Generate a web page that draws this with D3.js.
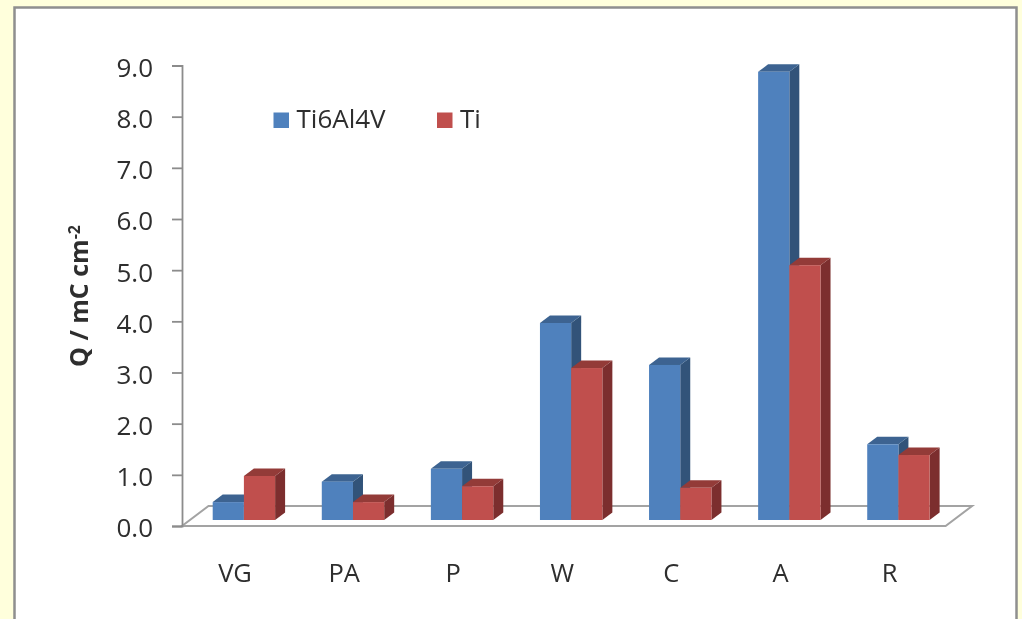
<!DOCTYPE html>
<html>
<head>
<meta charset="utf-8">
<script src="https://cdn.jsdelivr.net/npm/d3@7"></script>
<style>
  html, body { margin: 0; padding: 0; background: #ffffdc; overflow: hidden; }
  svg { display: block; }
  text { font-family: "Open Sans", sans-serif; fill: #2e2e2e; }
</style>
</head>
<body>
<div id="chart"></div>
<script>
const categories = ["VG", "PA", "P", "W", "C", "A", "R"];
const seriesNames = ["Ti6Al4V", "Ti"];
const ti6al4v = [0.35, 0.75, 1.0, 3.85, 3.03, 8.76, 1.48];
const ti = [0.86, 0.35, 0.66, 2.97, 0.63, 4.98, 1.27];
const yTicks = [0, 1, 2, 3, 4, 5, 6, 7, 8, 9];

const frontColors = ["#4f81bd", "#c0504d"];
const topColors = ["#3c6491", "#933b39"];
const sideColors = ["#315379", "#7b2f2d"];

const width = 1022, height = 619;

const svg = d3.select("#chart").append("svg")
    .attr("width", width)
    .attr("height", height);

// source image is a slightly soft screenshot
svg.append("defs").append("filter").attr("id", "soft")
    .append("feGaussianBlur").attr("stdDeviation", 0.6);

const root = svg.append("g").attr("filter", "url(#soft)");

// white panel with grey border
root.append("rect")
    .attr("x", 14.5).attr("y", 7.5)
    .attr("width", 1002).attr("height", 640)
    .attr("fill", "#fff")
    .attr("stroke", "#8f8f8f")
    .attr("stroke-width", 2.5);

const x = d3.scaleBand().domain(categories).range([182, 945.6]);
const y = d3.scaleLinear().domain([0, 9]).range([526, 65.5]);

// floor of the 3d chart
const floorDx = 26.5, floorDy = 20;
root.append("path")
    .attr("d", d3.line()([
        [x.range()[0], y(0)],
        [x.range()[1], y(0)],
        [x.range()[1] + floorDx, y(0) - floorDy],
        [x.range()[0] + floorDx, y(0) - floorDy]
    ]) + "Z")
    .attr("fill", "#fff")
    .attr("stroke", "#a3a3a3")
    .attr("stroke-width", 2);

// value axis
const yAxis = root.append("g")
    .attr("transform", `translate(${x.range()[0]},0)`)
    .call(d3.axisLeft(y).tickValues(yTicks).tickFormat(d3.format(".1f")).tickSize(10).tickPadding(19));
yAxis.selectAll("path, line").attr("stroke", "#8c8c8c").attr("stroke-width", 1.8);
yAxis.selectAll("text")
    .attr("font-size", 26)
    .attr("font-family", "Open Sans")
    .attr("fill", "#2e2e2e")
    .attr("dy", "0.42em");

// bars
const barW = 31.2, depthX = 10, depthY = 7.5, baseLift = 6, barInset = 30.7;
const barPath = pts => d3.line()(pts) + "Z";

const groups = root.selectAll(".cat")
    .data(categories)
    .enter().append("g")
    .attr("class", "cat");

groups.each(function(cat, i) {
    const g = d3.select(this);
    [ti6al4v[i], ti[i]].forEach((v, s) => {
        const x0 = x(cat) + barInset + s * barW;
        const x1 = x0 + barW;
        const base = y(0) - baseLift;
        const top = y(v) - baseLift;
        g.append("path")
            .attr("d", barPath([[x1, base], [x1 + depthX, base - depthY], [x1 + depthX, top - depthY], [x1, top]]))
            .attr("fill", sideColors[s]);
        g.append("path")
            .attr("d", barPath([[x0, top], [x0 + depthX, top - depthY], [x1 + depthX, top - depthY], [x1, top]]))
            .attr("fill", topColors[s]);
        g.append("rect")
            .attr("x", x0).attr("y", top)
            .attr("width", barW).attr("height", base - top)
            .attr("fill", frontColors[s]);
    });
});

// category labels
root.selectAll(".cat-label")
    .data(categories)
    .enter().append("text")
    .attr("class", "cat-label")
    .attr("x", d => x(d) + x.bandwidth() / 2 - 1.5)
    .attr("y", 582)
    .attr("text-anchor", "middle")
    .attr("font-size", 25.5)
    .text(d => d);

// legend
const legendX = [273.5, 437];
seriesNames.forEach((name, s) => {
    root.append("rect")
        .attr("x", legendX[s]).attr("y", 112.5)
        .attr("width", 15.5).attr("height", 15.5)
        .attr("fill", frontColors[s]);
    root.append("text")
        .attr("x", legendX[s] + 23).attr("y", 128)
        .attr("font-size", 26)
        .text(name);
});

// axis title
const title = root.append("text")
    .attr("transform", "translate(88,296) rotate(-90)")
    .attr("text-anchor", "middle")
    .attr("font-size", 25)
    .attr("font-weight", "bold")
    .attr("fill", "#111");
title.append("tspan").text("Q / mC cm");
title.append("tspan").attr("dy", -8).attr("font-size", 16).text("-2");
</script>
</body>
</html>
